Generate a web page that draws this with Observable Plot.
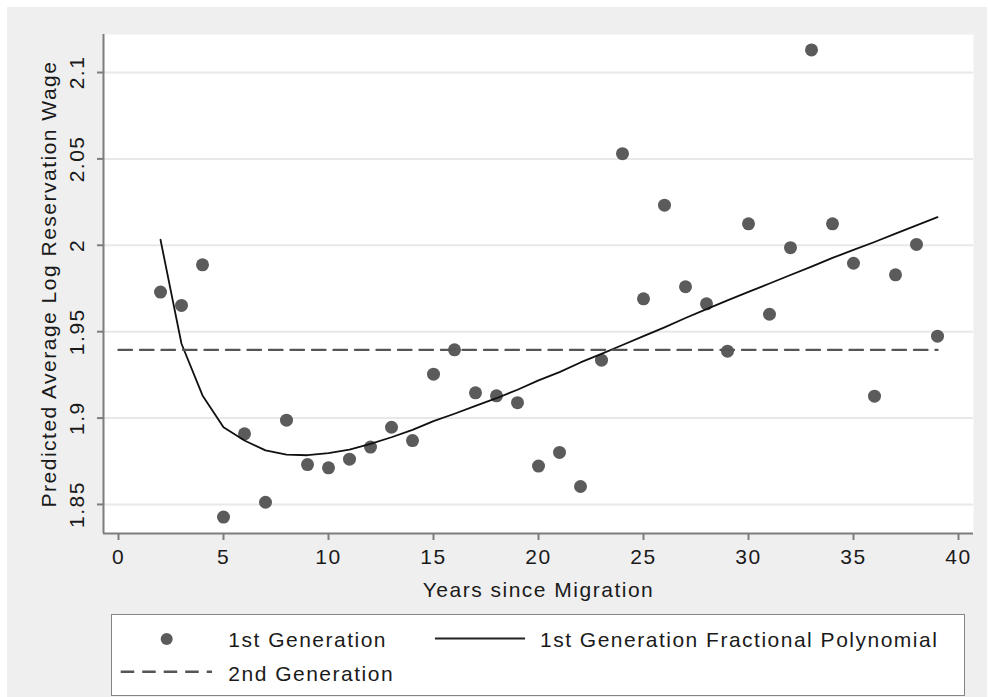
<!DOCTYPE html>
<html>
<head>
<meta charset="utf-8">
<script src="https://cdn.jsdelivr.net/npm/d3@7"></script>
<script src="https://cdn.jsdelivr.net/npm/@observablehq/plot@0.6"></script>
<style>
  html, body { margin: 0; padding: 0; background: #ffffff; }
  #wrap { position: relative; width: 988px; height: 697px; overflow: hidden; }
  #bg { position: absolute; left: 7px; top: 7px; width: 980px; height: 690px; background: #efefef; }
  #chart { position: absolute; left: 0; top: 0; }
  #legend { position: absolute; left: 111px; top: 614px; width: 854px; height: 82px;
            box-sizing: border-box; border: 1.5px solid #858585; background: #ffffff; }
  #legend svg { position: absolute; left: -1.5px; top: -1.5px; overflow: visible; }
  .lt { font-family: "Liberation Sans", Arial, sans-serif; font-size: 21px; letter-spacing: 1.5px; fill: #1a1a1a; }
</style>
</head>
<body>
<div id="wrap">
  <div id="bg"></div>
  <div id="chart"></div>
  <div id="legend"></div>
</div>
<script>
// ---- data ----
const years = [2,3,4,5,6,7,8,9,10,11,12,13,14,15,16,17,18,19,20,21,22,23,24,25,26,27,28,29,30,31,32,33,34,35,36,37,38,39];
const firstGen = [1.9729,1.9652,1.9887,1.8427,1.8909,1.8513,1.8988,1.8731,1.8712,1.8762,1.8832,1.8947,1.8870,1.9254,1.9395,1.9146,1.9129,1.9089,1.8722,1.8801,1.8604,1.9335,2.0530,1.9690,2.0232,1.9760,1.9661,1.9387,2.0124,1.9601,1.9986,2.1131,2.0124,1.9896,1.9127,1.9829,2.0005,1.9474];
const fpYears = years;
const fpValues = [2.0032,1.9430,1.9131,1.8947,1.8870,1.8813,1.8789,1.8785,1.8797,1.8818,1.8851,1.8889,1.8932,1.8982,1.9025,1.9071,1.9115,1.9164,1.9218,1.9266,1.9322,1.9372,1.9423,1.9474,1.9525,1.9579,1.9631,1.9681,1.9730,1.9779,1.9828,1.9877,1.9927,1.9973,2.0019,2.0068,2.0115,2.0163];
const secondGenYears = [0, 39];
const secondGenValues = [1.9395, 1.9395];
const xTicks = [0,5,10,15,20,25,30,35,40];
const yTicks = [1.85,1.9,1.95,2,2.05,2.1];
const yTickLabels = ["1.85","1.9","1.95","2","2.05","2.1"];
const xTitle = "Years since Migration";
const yTitle = "Predicted Average Log Reservation Wage";
const legendLabels = ["1st Generation", "1st Generation Fractional Polynomial", "2nd Generation"];

const firstRows = years.map((y, i) => ({x: y, v: firstGen[i]}));
const fpRows = fpYears.map((y, i) => ({x: y, v: fpValues[i]}));
const secondRows = secondGenYears.map((y, i) => ({x: y, v: secondGenValues[i]}));
const yTickRows = yTicks.map((t, i) => ({t, label: yTickLabels[i]}));

const xDomain = [-0.7143, 40.7143];
const yDomain = [1.8332, 2.1220];
const axisColor = "#7d7d7d";
const dotColor = "#5b5b5b";

const chart = Plot.plot({
  width: 988,
  height: 610,
  marginLeft: 103,
  marginRight: 15,
  marginTop: 34,
  marginBottom: 77,
  x: {domain: xDomain},
  y: {domain: yDomain},
  style: {
    background: "transparent",
    fontFamily: "'Liberation Sans', Arial, sans-serif",
    fontSize: "21px",
    letterSpacing: "1.5px",
    color: "#1a1a1a",
    overflow: "visible"
  },
  marks: [
    Plot.frame({fill: "#ffffff", stroke: null}),
    Plot.ruleY(yTicks, {stroke: "#e8e8e8", strokeWidth: 2}),
    Plot.dot(firstRows, {x: "x", y: "v", r: 6.5, fill: dotColor, stroke: null}),
    Plot.line(fpRows, {x: "x", y: "v", stroke: "#111111", strokeWidth: 1.8}),
    Plot.line(secondRows, {x: "x", y: "v", stroke: "#555555", strokeWidth: 2.4, strokeDasharray: "13.5,8"}),
    Plot.ruleX([xDomain[0]], {stroke: axisColor, strokeWidth: 2}),
    Plot.ruleY([yDomain[0]], {stroke: axisColor, strokeWidth: 2}),
    Plot.axisX({ticks: xTicks, tickSize: 7, tickPadding: 9, stroke: axisColor, strokeWidth: 2, fill: "#1a1a1a", label: null, tickFormat: d => String(d)}),
    Plot.axisY({ticks: yTicks, tickSize: 6, stroke: axisColor, strokeWidth: 2, label: null, tickFormat: () => ""}),
    Plot.text(yTickRows, {x: xDomain[0], y: "t", text: "label", rotate: -90, dx: -20, lineAnchor: "bottom", textAnchor: "middle", fill: "#1a1a1a"}),
    Plot.text([yTitle], {frameAnchor: "left", rotate: -90, dx: -48, lineAnchor: "bottom", textAnchor: "middle", fill: "#1a1a1a"}),
    Plot.text([xTitle], {frameAnchor: "bottom", dy: 63, lineAnchor: "bottom", textAnchor: "middle", fill: "#1a1a1a"})
  ]
});
document.getElementById("chart").appendChild(chart);

// ---- legend (drawn below the plot SVG) ----
const ns = "http://www.w3.org/2000/svg";
const lsvg = document.createElementNS(ns, "svg");
lsvg.setAttribute("width", 854);
lsvg.setAttribute("height", 82);
function el(tag, attrs, text) {
  const e = document.createElementNS(ns, tag);
  for (const k in attrs) e.setAttribute(k, attrs[k]);
  if (text != null) e.textContent = text;
  lsvg.appendChild(e);
  return e;
}
// offsets relative to legend box at (111, 614)
el("circle", {cx: 166.7 - 111, cy: 639 - 614, r: 6, fill: dotColor});
el("text", {x: 228.3 - 111, y: 646.7 - 614, class: "lt"}, legendLabels[0]);
el("line", {x1: 435 - 111, x2: 525 - 111, y1: 638.5 - 614, y2: 638.5 - 614, stroke: "#222222", "stroke-width": 1.8});
el("text", {x: 540 - 111, y: 646.7 - 614, class: "lt"}, legendLabels[1]);
el("line", {x1: 120.7 - 111, x2: 212 - 111, y1: 671.7 - 614, y2: 671.7 - 614, stroke: "#555555", "stroke-width": 2.4, "stroke-dasharray": "13.5,8"});
el("text", {x: 228.3 - 111, y: 681 - 614, class: "lt"}, legendLabels[2]);
document.getElementById("legend").appendChild(lsvg);
</script>
</body>
</html>
